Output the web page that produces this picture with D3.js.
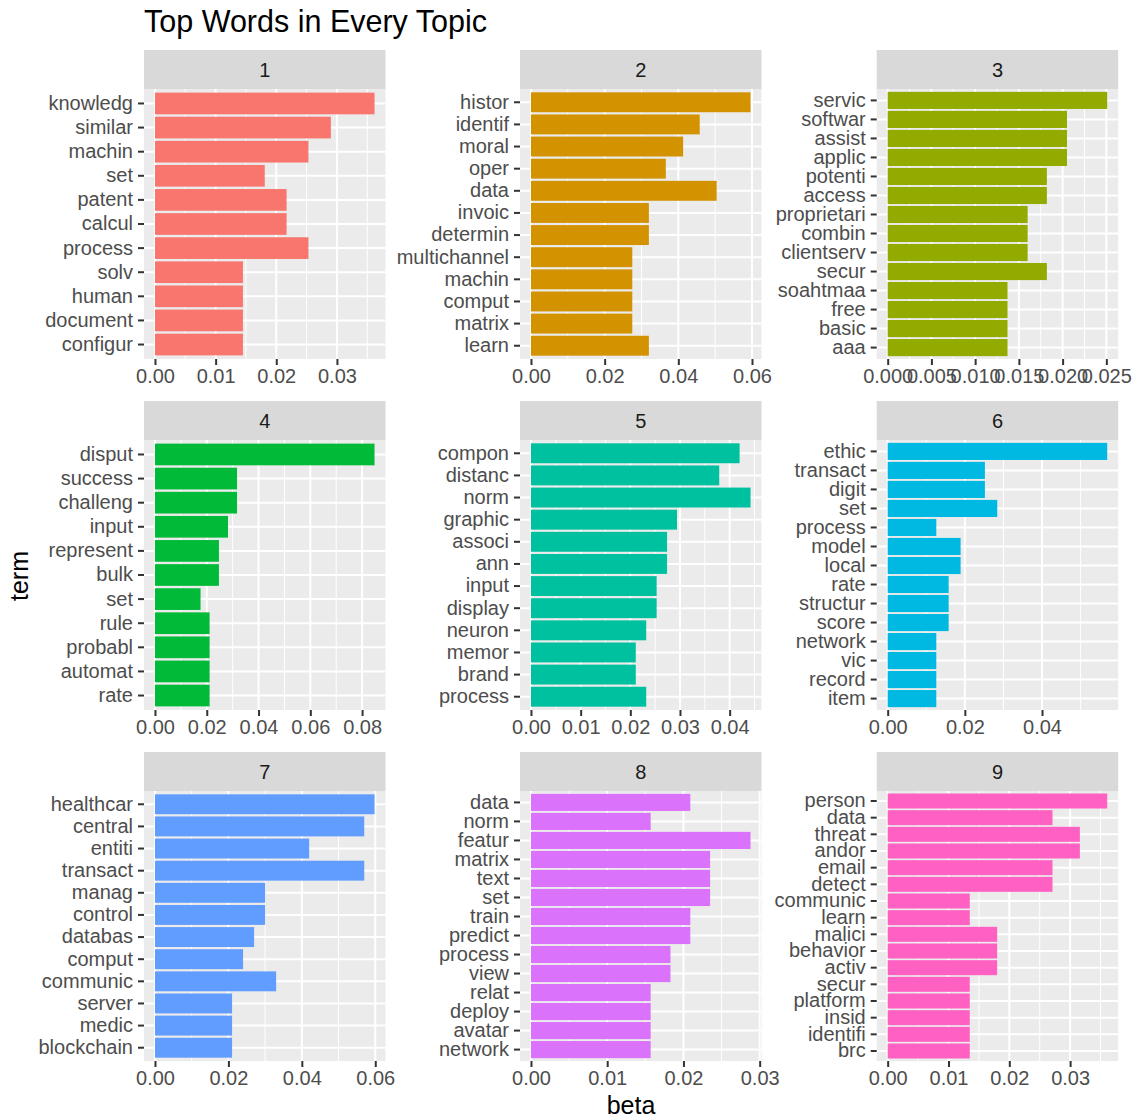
<!DOCTYPE html>
<html>
<head>
<meta charset="utf-8">
<script src="https://cdn.jsdelivr.net/npm/d3@7"></script>
<style>
  body { margin: 0; background: #ffffff; }
</style>
</head>
<body>
<div id="chart"></div>
<script>
// top terms per topic, listed top to bottom as drawn
const terms1 = ["knowledg", "similar", "machin", "set", "patent", "calcul", "process", "solv", "human", "document", "configur"];
const beta1 = [0.0362, 0.0290, 0.0253, 0.0181, 0.0217, 0.0217, 0.0253, 0.0145, 0.0145, 0.0145, 0.0145];
const ticks1 = ["0.00", "0.01", "0.02", "0.03"];

const terms2 = ["histor", "identif", "moral", "oper", "data", "invoic", "determin", "multichannel", "machin", "comput", "matrix", "learn"];
const beta2 = [0.0596, 0.0458, 0.0413, 0.0366, 0.0504, 0.0320, 0.0320, 0.0275, 0.0275, 0.0275, 0.0275, 0.0320];
const ticks2 = ["0.00", "0.02", "0.04", "0.06"];

const terms3 = ["servic", "softwar", "assist", "applic", "potenti", "access", "proprietari", "combin", "clientserv", "secur", "soahtmaa", "free", "basic", "aaa"];
const beta3 = [0.0251, 0.0205, 0.0205, 0.0205, 0.0182, 0.0182, 0.0160, 0.0160, 0.0160, 0.0182, 0.0137, 0.0137, 0.0137, 0.0137];
const ticks3 = ["0.000", "0.005", "0.010", "0.015", "0.020", "0.025"];

const terms4 = ["disput", "success", "challeng", "input", "represent", "bulk", "set", "rule", "probabl", "automat", "rate"];
const beta4 = [0.0848, 0.0317, 0.0317, 0.0282, 0.0247, 0.0247, 0.0176, 0.0211, 0.0211, 0.0211, 0.0211];
const ticks4 = ["0.00", "0.02", "0.04", "0.06", "0.08"];

const terms5 = ["compon", "distanc", "norm", "graphic", "associ", "ann", "input", "display", "neuron", "memor", "brand", "process"];
const beta5 = [0.0420, 0.0379, 0.0442, 0.0294, 0.0274, 0.0274, 0.0253, 0.0253, 0.0232, 0.0211, 0.0211, 0.0232];
const ticks5 = ["0.00", "0.01", "0.02", "0.03", "0.04"];

const terms6 = ["ethic", "transact", "digit", "set", "process", "model", "local", "rate", "structur", "score", "network", "vic", "record", "item"];
const beta6 = [0.0569, 0.0252, 0.0252, 0.0284, 0.0126, 0.0189, 0.0189, 0.0158, 0.0158, 0.0158, 0.0126, 0.0126, 0.0126, 0.0126];
const ticks6 = ["0.00", "0.02", "0.04"];

const terms7 = ["healthcar", "central", "entiti", "transact", "manag", "control", "databas", "comput", "communic", "server", "medic", "blockchain"];
const beta7 = [0.0598, 0.0570, 0.0420, 0.0570, 0.0300, 0.0300, 0.0270, 0.0240, 0.0330, 0.0210, 0.0210, 0.0210];
const ticks7 = ["0.00", "0.02", "0.04", "0.06"];

const terms8 = ["data", "norm", "featur", "matrix", "text", "set", "train", "predict", "process", "view", "relat", "deploy", "avatar", "network"];
const beta8 = [0.0209, 0.0157, 0.0288, 0.0235, 0.0235, 0.0235, 0.0209, 0.0209, 0.0183, 0.0183, 0.0157, 0.0157, 0.0157, 0.0157];
const ticks8 = ["0.00", "0.01", "0.02", "0.03"];

const terms9 = ["person", "data", "threat", "andor", "email", "detect", "communic", "learn", "malici", "behavior", "activ", "secur", "platform", "insid", "identifi", "brc"];
const beta9 = [0.0361, 0.0271, 0.0316, 0.0316, 0.0271, 0.0271, 0.0135, 0.0135, 0.0180, 0.0180, 0.0180, 0.0135, 0.0135, 0.0135, 0.0135, 0.0135];
const ticks9 = ["0.00", "0.01", "0.02", "0.03"];

const topicLabels = ["1", "2", "3", "4", "5", "6", "7", "8", "9"];

// ggplot default hue palette for 9 groups
const topicColors = ["#F8766D", "#D39200", "#93AA00", "#00BA38", "#00C19F", "#00B9E3", "#619CFF", "#DB72FB", "#FF61C3"];

const topics = [
  { terms: terms1, beta: beta1, ticks: ticks1 },
  { terms: terms2, beta: beta2, ticks: ticks2 },
  { terms: terms3, beta: beta3, ticks: ticks3 },
  { terms: terms4, beta: beta4, ticks: ticks4 },
  { terms: terms5, beta: beta5, ticks: ticks5 },
  { terms: terms6, beta: beta6, ticks: ticks6 },
  { terms: terms7, beta: beta7, ticks: ticks7 },
  { terms: terms8, beta: beta8, ticks: ticks8 },
  { terms: terms9, beta: beta9, ticks: ticks9 }
];

// layout
const width = 1138, height = 1118;
const colLeft = [144, 520, 876.7];
const rowTop = [50, 401, 752];
const stripH = 39, panelW = 241.5, panelH = 270;
const font = "'Liberation Sans', Arial, Helvetica, sans-serif";
const tickFont = 20;

const svg = d3.select("#chart")
  .append("svg")
  .attr("width", width)
  .attr("height", height)
  .style("font-family", font);

svg.append("rect")
  .attr("width", width)
  .attr("height", height)
  .attr("fill", "#ffffff");

topics.forEach((t, i) => {
  const col = i % 3, row = Math.floor(i / 3);
  const x0 = colLeft[col];
  const top = rowTop[row] + stripH;
  const bottom = top + panelH;

  const maxB = d3.max(t.beta);
  // continuous scale with ggplot's 5% expansion
  const xScale = d3.scaleLinear()
    .domain([-0.05 * maxB, 1.05 * maxB])
    .range([x0, x0 + panelW]);

  // discrete scale: bar width 0.9, 0.6 expansion
  const yScale = d3.scaleBand()
    .domain(t.terms)
    .range([top, bottom])
    .paddingInner(0.1)
    .paddingOuter(0.15);

  const g = svg.append("g");

  // strip
  g.append("rect")
    .attr("x", x0).attr("y", rowTop[row])
    .attr("width", panelW).attr("height", stripH)
    .attr("fill", "#D9D9D9");
  g.append("text")
    .attr("x", x0 + panelW / 2)
    .attr("y", rowTop[row] + stripH / 2)
    .attr("dy", "0.35em")
    .attr("text-anchor", "middle")
    .attr("font-size", tickFont)
    .attr("fill", "#1A1A1A")
    .text(topicLabels[i]);

  // panel background
  g.append("rect")
    .attr("x", x0).attr("y", top)
    .attr("width", panelW).attr("height", panelH)
    .attr("fill", "#EBEBEB");

  const tickVals = t.ticks.map(Number);
  const step = tickVals[1] - tickVals[0];
  const dom = xScale.domain();

  // minor grid halfway between breaks
  const minor = [];
  for (let k = -1; k <= tickVals.length; k++) {
    const v = tickVals[0] + (k + 0.5) * step;
    if (v > dom[0] && v < dom[1]) minor.push(v);
  }
  g.selectAll(".minor")
    .data(minor)
    .enter()
    .append("line")
      .attr("x1", d => xScale(d)).attr("x2", d => xScale(d))
      .attr("y1", top).attr("y2", bottom)
      .attr("stroke", "#ffffff")
      .attr("stroke-width", 1);

  // major grid
  g.selectAll(".majorx")
    .data(tickVals)
    .enter()
    .append("line")
      .attr("x1", d => xScale(d)).attr("x2", d => xScale(d))
      .attr("y1", top).attr("y2", bottom)
      .attr("stroke", "#ffffff")
      .attr("stroke-width", 2);

  g.selectAll(".majory")
    .data(t.terms)
    .enter()
    .append("line")
      .attr("x1", x0).attr("x2", x0 + panelW)
      .attr("y1", d => yScale(d) + yScale.bandwidth() / 2)
      .attr("y2", d => yScale(d) + yScale.bandwidth() / 2)
      .attr("stroke", "#ffffff")
      .attr("stroke-width", 2);

  // bars
  g.selectAll(".bar")
    .data(t.terms.map((term, j) => ({ term: term, beta: t.beta[j] })))
    .enter()
    .append("rect")
      .attr("x", xScale(0))
      .attr("y", d => yScale(d.term))
      .attr("width", d => xScale(d.beta) - xScale(0))
      .attr("height", yScale.bandwidth())
      .attr("fill", topicColors[i]);

  // y axis
  g.append("g")
    .attr("transform", `translate(${x0},0)`)
    .call(d3.axisLeft(yScale).tickSize(6).tickPadding(5))
    .attr("font-family", font)
    .attr("font-size", tickFont)
    .call(a => a.select(".domain").remove())
    .call(a => a.selectAll("line").attr("stroke", "#333333").attr("stroke-width", 2))
    .call(a => a.selectAll("text").attr("fill", "#4D4D4D"));

  // x axis
  g.append("g")
    .attr("transform", `translate(0,${bottom})`)
    .call(d3.axisBottom(xScale)
      .tickValues(tickVals)
      .tickFormat((d, j) => t.ticks[j])
      .tickSize(6).tickPadding(4))
    .attr("font-family", font)
    .attr("font-size", tickFont)
    .call(a => a.select(".domain").remove())
    .call(a => a.selectAll("line").attr("stroke", "#333333").attr("stroke-width", 2))
    .call(a => a.selectAll("text").attr("fill", "#4D4D4D"));
});

// title and axis titles
svg.append("text")
  .attr("x", 144)
  .attr("y", 32)
  .attr("font-size", 30.5)
  .attr("fill", "#000000")
  .text("Top Words in Every Topic");

svg.append("text")
  .attr("transform", "translate(19,576) rotate(-90)")
  .attr("dy", "0.35em")
  .attr("text-anchor", "middle")
  .attr("font-size", 25)
  .attr("fill", "#000000")
  .text("term");

svg.append("text")
  .attr("x", 631)
  .attr("y", 1105)
  .attr("dy", "0.35em")
  .attr("text-anchor", "middle")
  .attr("font-size", 25)
  .attr("fill", "#000000")
  .text("beta");
</script>
</body>
</html>
